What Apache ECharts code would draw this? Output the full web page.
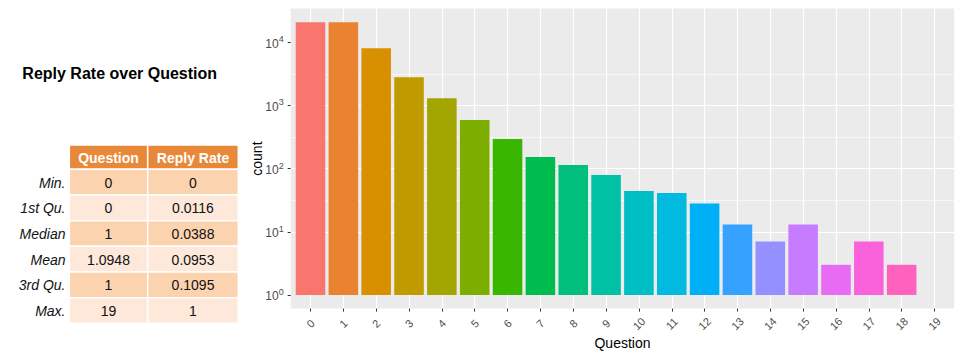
<!DOCTYPE html>
<html><head><meta charset="utf-8">
<script src="https://cdn.jsdelivr.net/npm/echarts@6/dist/echarts.min.js"></script>
<style>html,body{margin:0;padding:0;background:#fff}#c{width:961px;height:359px}</style>
</head><body><div id="c"></div>
<script>
// ---- data ----
const questions = ['0','1','2','3','4','5','6','7','8','9','10','11','12','13','14','15','16','17','18','19'];
const counts = [20700, 20650, 8040, 2800, 1300, 585, 293, 152, 114, 79, 44, 41, 28, 13, 7, 13, 3, 7, 3, 1];
const yMajorTicks = [1, 10, 100, 1000, 10000];
const yMinorBreaks = [3.1623, 31.623, 316.23, 3162.3, 31623];
const tableTitle = 'Reply Rate over Question';
const tableHeader = ['Question', 'Reply Rate'];
const tableRowNames = ['Min.', '1st Qu.', 'Median', 'Mean', '3rd Qu.', 'Max.'];
const questionStats = ['0', '0', '1', '1.0948', '1', '19'];
const replyRateStats = ['0', '0.0116', '0.0388', '0.0953', '0.1095', '1'];
const xName = 'Question';
const yName = 'count';

// ---- styling ----
const palette = ['#F8766D','#EA8331','#D89000','#C09B00','#A3A500','#7CAE00','#39B600','#00BB4E','#00BF7D','#00C1A3',
                 '#00BFC4','#00BAE0','#00B0F6','#35A2FF','#9590FF','#C77CFF','#E76BF3','#FA62DB','#FF62BC','#FF6C91'];
const FONT = 'Liberation Sans, Arial, Helvetica, sans-serif';

// y extent: ggplot-like 5% expansion of log range (bars start at 1)
const lmax = Math.log10(Math.max(...counts));
const pad = 0.05 * lmax;
const yMin = Math.pow(10, -pad), yMax = Math.pow(10, lmax + pad);

const panel = {left: 290.7, top: 8.6, width: 663.5, height: 300};
const inner = {left: 310.5, width: 624};

// ---- table graphic ----
const graphic = [];
graphic.push({type: 'text', x: 119.7, y: 73, style: {text: tableTitle, fill: '#000', fontSize: 16, fontWeight: 'bold', fontFamily: FONT, align: 'center', verticalAlign: 'middle'}});
const tx = 69.3, colW = [78.4, 90.6], ty = 145, hH = 24.3, rH = 25.67;
const colors = {head: '#E8893A', dark: '#FCD3AF', light: '#FDE8DA'};
let cx = tx;
tableHeader.forEach((h, j) => {
  graphic.push({type: 'rect', shape: {x: cx, y: ty, width: colW[j], height: hH}, style: {fill: colors.head, stroke: '#fff', lineWidth: 1.5}});
  graphic.push({type: 'text', x: cx + colW[j] / 2, y: ty + hH / 2 + 0.5, style: {text: h, fill: '#fff', fontSize: 14, fontWeight: 'bold', fontFamily: FONT, align: 'center', verticalAlign: 'middle'}});
  cx += colW[j];
});
tableRowNames.forEach((name, i) => {
  const y = ty + hH + i * rH;
  const fill = i % 2 === 0 ? colors.dark : colors.light;
  const vals = [questionStats[i], replyRateStats[i]];
  let x = tx;
  vals.forEach((v, j) => {
    graphic.push({type: 'rect', shape: {x: x, y: y, width: colW[j], height: rH}, style: {fill: fill, stroke: '#fff', lineWidth: 1.5}});
    graphic.push({type: 'text', x: x + colW[j] / 2, y: y + rH / 2 + 0.5, style: {text: v, fill: '#111', fontSize: 14, fontFamily: FONT, align: 'center', verticalAlign: 'middle'}});
    x += colW[j];
  });
  graphic.push({type: 'text', x: 65.5, y: y + rH / 2 + 0.5, style: {text: name, fill: '#111', fontSize: 14, fontStyle: 'italic', fontFamily: FONT, align: 'right', verticalAlign: 'middle'}});
});

const chart = echarts.init(document.getElementById('c'), null, {renderer: 'svg'});
chart.setOption({
  animation: false,
  backgroundColor: '#fff',
  textStyle: {fontFamily: FONT},
  graphic: graphic,
  grid: [
    {left: panel.left, top: panel.top, width: panel.width, height: panel.height, show: true, backgroundColor: '#EBEBEB', borderWidth: 0},
    {left: inner.left, top: panel.top, width: inner.width, height: panel.height, show: false}
  ],
  xAxis: [
    {gridIndex: 0, type: 'value', show: false, min: 0, max: 1},
    {gridIndex: 1, type: 'category', data: questions, boundaryGap: false,
     axisLine: {show: false},
     axisTick: {show: true, length: 3, lineStyle: {color: '#333', width: 1}},
     axisLabel: {rotate: 45, fontSize: 11, color: '#4D4D4D', margin: 15, align: 'center', verticalAlign: 'middle', interval: 0},
     splitLine: {show: true, lineStyle: {color: '#fff', width: 1.2}},
     name: xName, nameLocation: 'middle', nameGap: 27, nameMoveOverlap: false, nameTextStyle: {fontSize: 14, color: '#000'}}
  ],
  yAxis: [
    {gridIndex: 0, type: 'log', logBase: 10, min: yMin, max: yMax,
     axisLine: {show: false},
     axisTick: {show: true, length: 3, lineStyle: {color: '#333'}, customValues: yMajorTicks},
     axisLabel: {customValues: yMajorTicks, margin: 7, color: '#4D4D4D',
       formatter: function (v) { return '{b|10}{s|' + Math.round(Math.log10(v)) + '}'; },
       rich: {b: {fontSize: 12, color: '#4D4D4D', lineHeight: 15, verticalAlign: 'bottom'},
              s: {fontSize: 9, color: '#4D4D4D', lineHeight: 15, verticalAlign: 'top', padding: [0, 0, 6, 0]}}},
     splitLine: {show: true, showMinLine: false, showMaxLine: false, lineStyle: {color: '#fff', width: 1.2}},
     name: yName, nameLocation: 'middle', nameGap: 27, nameMoveOverlap: false, nameRotate: 90, nameTextStyle: {fontSize: 14, color: '#000'}},
    {gridIndex: 0, type: 'log', logBase: 10, min: yMin, max: yMax,
     axisLine: {show: false}, axisTick: {show: false, customValues: yMinorBreaks}, axisLabel: {show: false, customValues: yMinorBreaks},
     splitLine: {show: true, showMinLine: false, showMaxLine: false, lineStyle: {color: '#fff', width: 0.6}}},
    {gridIndex: 1, type: 'log', logBase: 10, min: yMin, max: yMax, show: false, splitLine: {show: false}}
  ],
  series: [{
    type: 'bar', xAxisIndex: 1, yAxisIndex: 2, data: counts, barCategoryGap: '10%', clip: false,
    itemStyle: {color: function (p) { return palette[p.dataIndex % palette.length]; }}
  }]
});
</script></body></html>
